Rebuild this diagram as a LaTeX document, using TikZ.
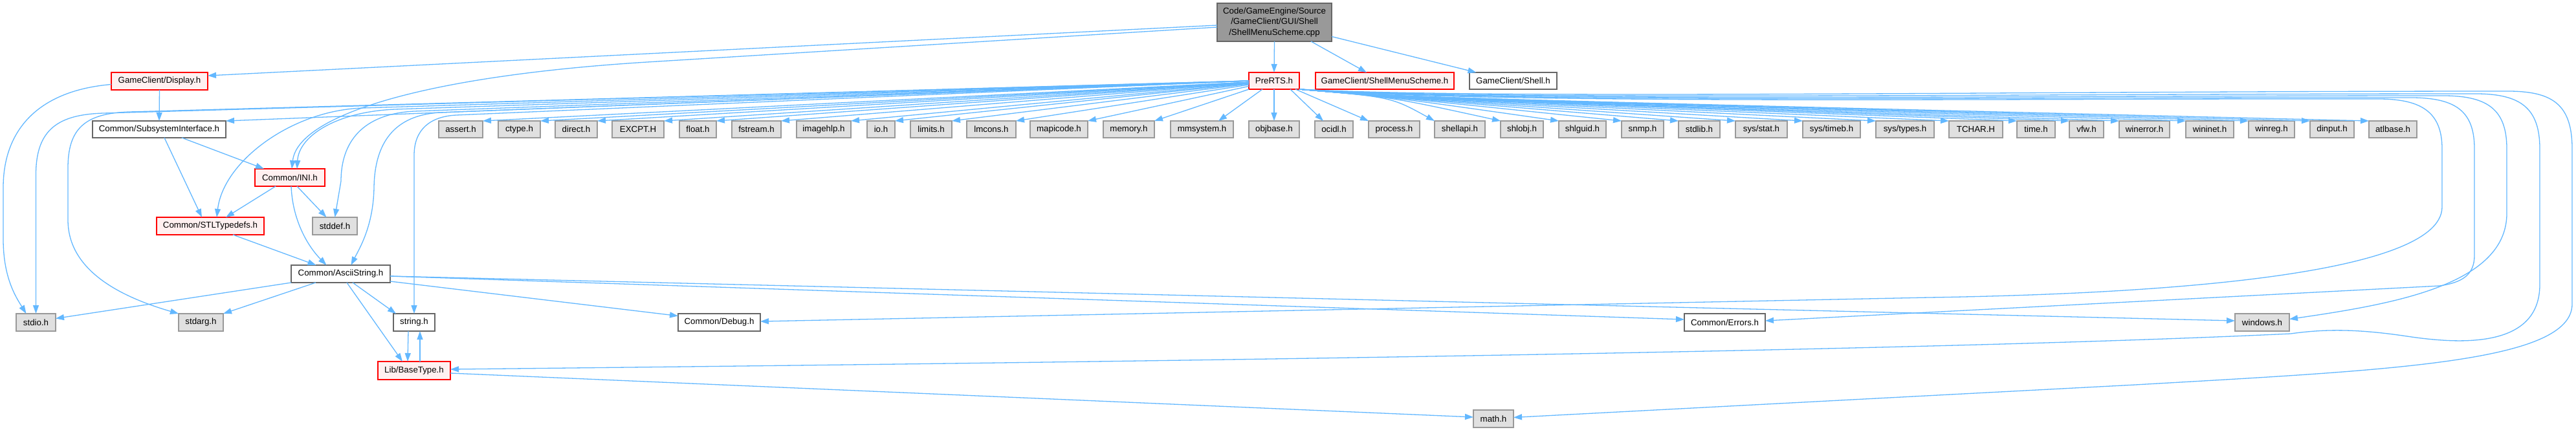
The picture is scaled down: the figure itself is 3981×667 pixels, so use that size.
\documentclass[tikz,border=0pt]{standalone}
\usepackage{fontspec}
\setmainfont{Liberation Sans}
\usetikzlibrary{arrows.meta}
\definecolor{edgeblue}{HTML}{63B8FF}
\definecolor{redfill}{HTML}{FFF0F0}
\definecolor{grayfill}{HTML}{E0E0E0}
\definecolor{grayline}{HTML}{999999}
\definecolor{darkline}{HTML}{666666}
\definecolor{rootfill}{HTML}{999999}
\newcommand\nbox[7]{\node[#1, minimum width={(#5-#3)*1pt}, minimum height={(#6-#4)*1pt}] (#2) at ({(#3+#5)/2},{(#4+#6)/2}) {#7};}
\newcommand\hdr[4]{\nbox{graybox}{#1}{#2}{187}{#3}{213}{#4}}
\begin{document}
\begin{tikzpicture}[x=1pt,y=-1pt,
  nb/.style={rectangle, inner sep=0pt, outer sep=0pt, line width=1.3pt, font=\fontsize{13.3}{16.5}\selectfont, align=center},
  redbox/.style={nb, draw=red, fill=redfill},
  graybox/.style={nb, draw=grayline, fill=grayfill},
  whitebox/.style={nb, draw=darkline, fill=white},
  rootbox/.style={nb, draw=darkline, fill=rootfill},
  edge/.style={draw=edgeblue, line width=1.3pt, -{Triangle[length=13pt,width=9pt]}},
]
\useasboundingbox[fill=white] (0,0) rectangle (3981,667);

% nodes
\nbox{rootbox}{root}{1881}{5}{2058}{64}{Code/GameEngine/Source\\/GameClient/GUI/Shell\\/ShellMenuScheme.cpp}
\nbox{redbox}{display}{172}{112}{321}{139}{GameClient/Display.h}
\nbox{redbox}{prerts}{1930}{112}{2008}{138}{PreRTS.h}
\nbox{redbox}{shellms}{2033}{112}{2247}{138}{GameClient/ShellMenuScheme.h}
\nbox{whitebox}{shell}{2271}{112}{2406}{138}{GameClient/Shell.h}
\nbox{whitebox}{subsys}{143}{187}{349}{213}{Common/SubsystemInterface.h}
\nbox{redbox}{ini}{394}{261}{502}{288}{Common/INI.h}
\nbox{redbox}{stl}{242}{336}{408}{363}{Common/STLTypedefs.h}
\nbox{graybox}{stddef}{483}{336}{552}{363}{stddef.h}
\nbox{whitebox}{ascii}{450}{410}{603}{437}{Common/AsciiString.h}
\nbox{graybox}{stdio}{25}{485}{86}{512}{stdio.h}
\nbox{graybox}{stdarg}{276}{485}{345}{512}{stdarg.h}
\nbox{whitebox}{string}{608}{485}{672}{512}{string.h}
\nbox{redbox}{basetype}{584}{559}{696}{587}{Lib/BaseType.h}
\nbox{whitebox}{debug}{1048}{485}{1175}{512}{Common/Debug.h}
\nbox{whitebox}{errors}{2603}{485}{2728}{512}{Common/Errors.h}
\nbox{graybox}{windows}{3454}{485}{3538}{512}{windows.h}
\nbox{graybox}{math}{2277}{634}{2339}{661}{math.h}

\hdr{assert}{678}{746}{assert.h}
\hdr{ctype}{770}{835}{ctype.h}
\hdr{direct}{858}{923}{direct.h}
\hdr{excpt}{946}{1026}{EXCPT.H}
\hdr{float}{1050}{1107}{float.h}
\hdr{fstream}{1131}{1207}{fstream.h}
\hdr{imagehlp}{1231}{1315}{imagehlp.h}
\hdr{io}{1340}{1383}{io.h}
\hdr{limits}{1407}{1471}{limits.h}
\hdr{lmcons}{1494}{1570}{lmcons.h}
\hdr{mapicode}{1592}{1681}{mapicode.h}
\hdr{memory}{1705}{1784}{memory.h}
\hdr{mmsystem}{1809}{1906}{mmsystem.h}
\hdr{objbase}{1930}{2008}{objbase.h}
\hdr{ocidl}{2032}{2091}{ocidl.h}
\hdr{process}{2115}{2194}{process.h}
\hdr{shellapi}{2217}{2295}{shellapi.h}
\hdr{shlobj}{2319}{2385}{shlobj.h}
\hdr{shlguid}{2409}{2482}{shlguid.h}
\hdr{snmp}{2506}{2571}{snmp.h}
\hdr{stdlib}{2594}{2658}{stdlib.h}
\hdr{sysstat}{2682}{2762}{sys/stat.h}
\hdr{systimeb}{2786}{2875}{sys/timeb.h}
\hdr{systypes}{2899}{2989}{sys/types.h}
\hdr{tchar}{3012}{3095}{TCHAR.H}
\hdr{time}{3117}{3176}{time.h}
\hdr{vfw}{3198}{3251}{vfw.h}
\hdr{winerror}{3275}{3353}{winerror.h}
\hdr{wininet}{3378}{3452}{wininet.h}
\hdr{winreg}{3475}{3546}{winreg.h}
\hdr{dinput}{3570}{3638}{dinput.h}
\hdr{atlbase}{3661}{3735}{atlbase.h}

% root edges
\draw[edge] ([yshift=-4.5pt]root.west) -- ([yshift=8.5pt]display.east);
\draw[edge] ([yshift=-7.5pt]root.west) -- (1000,96) .. controls (648,118) and (460,180) .. ([xshift=3pt]ini.north);
\draw[edge] (root.south) -- (prerts.north);
\draw[edge] ([xshift=145pt]root.south west) -- ([xshift=-28pt]shellms.north);
\draw[edge] ([yshift=-22pt]root.east) -- ([xshift=-57pt]shell.north);

% Display.h
\draw[edge] ([yshift=-5pt]display.west) .. controls (60,140) and (5,200) .. (5,290) -- (5,370) .. controls (5,430) and (25,460) .. ([xshift=-15pt]stdio.north);
\draw[edge] (display.south) -- (subsys.north);

% SubsystemInterface.h
\draw[edge] ([xshift=35pt]subsys.south) -- ([xshift=-40pt]ini.north);
\draw[edge] ([xshift=8pt]subsys.south) -- ([xshift=-13pt]stl.north);

% INI.h
\draw[edge] ([xshift=-22pt]ini.south) -- ([xshift=24pt]stl.north);
\draw[edge] ([xshift=11pt]ini.south) -- ([xshift=-13pt]stddef.north);
\draw[edge] ([xshift=2pt]ini.south) .. controls (452,340) and (475,380) .. ([xshift=-22pt]ascii.north);

% STLTypedefs.h
\draw[edge] ([xshift=35pt]stl.south) -- ([xshift=-38pt]ascii.north);

% AsciiString.h
\draw[edge] (ascii.south west) -- ([yshift=6pt]stdio.east);
\draw[edge] ([xshift=38pt]ascii.south west) -- (stdarg.north east);
\draw[edge] ([xshift=95pt]ascii.south west) -- ([xshift=4pt]string.north west);
\draw[edge] ([xshift=86pt]ascii.south west) -- ([xshift=-18pt]basetype.north);
\draw[edge] ([yshift=2pt]ascii.south east) -- ([yshift=10pt]debug.west);
\draw[edge] ([yshift=-3.5pt]ascii.east) -- ([yshift=4.5pt]errors.west);
\draw[edge] ([yshift=-3.5pt]ascii.east) -- ([yshift=2.5pt]windows.west);

% string.h / BaseType.h
\draw[edge] ([xshift=-9pt]string.south) -- ([xshift=-10pt]basetype.north);
\draw[edge] ([xshift=9pt]basetype.north) -- ([xshift=9pt]string.south);
\draw[edge] ([yshift=-4pt]basetype.east) -- ([yshift=2.5pt]math.west);

% PreRTS.h to the left
\draw[edge] (prerts.west) -- (160,175) .. controls (90,177) and (55.5,200) .. (55.5,270) -- (stdio.north);
\draw[edge] (prerts.west) -- (200,173) .. controls (130,175) and (105,200) .. (105,260) -- (105,340) .. controls (105,420) and (190,460) .. (stdarg.north west);
\draw[edge] (prerts.west) -- (subsys.north east);
\draw[edge] (prerts.west) -- (560,167) .. controls (450,171) and (345,250) .. ([xshift=10pt]stl.north);
\draw[edge] (prerts.west) -- (610,169) .. controls (520,173) and (462,210) .. ([xshift=11pt]ini.north);
\draw[edge] (prerts.west) -- (640,172) .. controls (560,176) and (527,220) .. (527,280) -- (stddef.north);
\draw[edge] (prerts.west) -- (680,174) .. controls (610,178) and (579,220) .. (578,290) .. controls (577,350) and (555,385) .. ([xshift=16pt]ascii.north);
\draw[edge] (prerts.west) -- (705,178) .. controls (665,180) and (640,200) .. (640,240) -- (string.north);

% PreRTS.h to the header row
\foreach \t in {assert,ctype,direct,excpt,float,fstream,imagehlp,io,limits,lmcons,mapicode,memory}
  \draw[edge] (prerts) -- (\t.north east);
\draw[edge] (prerts) -- ([xshift=-23pt]mmsystem.north east);
\draw[edge] (prerts.south) -- (objbase.north);
\draw[edge] ([xshift=-14pt]prerts.south east) -- ([xshift=13pt]ocidl.north west);
\draw[edge] ([xshift=-6pt]prerts.south east) -- (process.north west);
\foreach \t in {shellapi,shlobj,shlguid,snmp,stdlib,sysstat,systimeb,systypes,tchar,time,vfw,winerror,wininet,winreg,dinput,atlbase}
  \draw[edge] (prerts.south east) .. controls (2150,150) .. (\t.north west);

% PreRTS.h loops on the right
\draw[edge] (prerts.south east) .. controls (2300,162) and (3100,152) .. (3680,153) .. controls (3740,154) and (3774,172) .. (3774,230) -- (3774,320) .. controls (3774,430) and (3300,455) .. (2981,460) -- ([yshift=1.5pt]debug.east);
\draw[edge] (prerts.south east) .. controls (2300,160) and (3100,150) .. (3730,151) .. controls (3795,152) and (3824,172) .. (3824,230) -- (3824,395) .. controls (3824,425) and (3805,437) .. (3770,442) -- ([yshift=2.5pt]errors.east);
\draw[edge] (prerts.south east) .. controls (2300,158) and (3100,148) .. (3780,148) .. controls (3845,149) and (3874,170) .. (3874,230) -- (3874,330) .. controls (3874,440) and (3700,470) .. ([yshift=5pt]windows.east);
\draw[edge] (prerts.south east) .. controls (2300,156) and (3100,145) .. (3830,145) .. controls (3895,146) and (3925,167) .. (3925,230) -- (3925,440) .. controls (3925,540) and (3800,532) .. (3720,520) .. controls (3640,508) and (3590,509) .. (3540,516) .. controls (3200,532) and (2500,552) .. ([yshift=2pt]basetype.east);
\draw[edge] (prerts.south east) .. controls (2300,154) and (3100,141) .. (3880,141) .. controls (3945,142) and (3975,162) .. (3975,230) -- (3975,470) .. controls (3975,560) and (3700,572) .. (3300,595) -- ([yshift=2pt]math.east);
\end{tikzpicture}
\end{document}
